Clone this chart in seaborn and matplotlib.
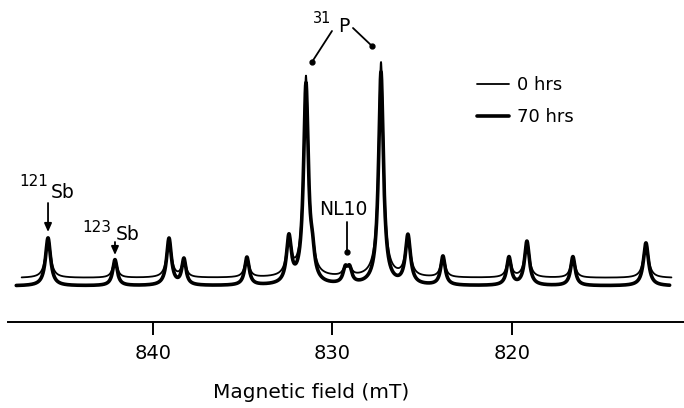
import numpy as np
import pandas as pd
import matplotlib
matplotlib.use("Agg")
import matplotlib.pyplot as plt
import seaborn as sns

# ---- values ----
# peak positions (mT), heights (signal units above each trace's baseline), half widths (mT)
peak_field = [845.83, 842.10, 839.09, 838.26, 834.75, 832.41, 831.46, 831.10,
              829.27, 829.03, 827.28, 825.78, 823.83, 820.15, 819.15, 816.59, 812.52]
peak_height_0h = [40, 18, 39, 18, 20, 38, 199, 14, 8, 8, 215, 41, 21, 20, 36, 21, 35]
peak_height_70h = [48, 26, 47, 26, 28, 46, 199, 20, 14, 14, 213, 49, 29, 28, 44, 29, 43]
peak_width = [0.17, 0.15, 0.16, 0.14, 0.15, 0.16, 0.16, 0.14,
              0.15, 0.15, 0.16, 0.17, 0.15, 0.15, 0.16, 0.15, 0.17]
baseline_0h = 0
baseline_70h = -8
field_span_0h = [847.3, 811.1]
field_span_70h = [847.6, 811.2]
series_labels = ["0 hrs", "70 hrs"]
tick_values = [840, 830, 820]
tick_labels = ["840", "830", "820"]


def trace(span, heights, base):
    x = np.linspace(span[0], span[1], 4000)
    y = np.full_like(x, float(base))
    for c, h, w in zip(peak_field, heights, peak_width):
        y = y + h / (1.0 + ((x - c) / w) ** 2)
    return pd.DataFrame({"field": x, "signal": y})


df0 = trace(field_span_0h, peak_height_0h, baseline_0h)
df70 = trace(field_span_70h, peak_height_70h, baseline_70h)

sns.set_style("white")
plt.rcParams["font.family"] = ["DejaVu Sans"]
plt.rcParams["text.color"] = "black"
plt.rcParams["axes.labelcolor"] = "black"
plt.rcParams["xtick.color"] = "black"

W, H = 684, 408
fig = plt.figure(figsize=(W / 100, H / 100), dpi=100)
ax = fig.add_axes([8 / W, 86 / H, 676 / W, 322 / H])

sns.lineplot(data=df0, x="field", y="signal", ax=ax, color="black", lw=1.3,
             sort=False, label=series_labels[0], zorder=3)
sns.lineplot(data=df70, x="field", y="signal", ax=ax, color="black", lw=2.6,
             sort=False, label=series_labels[1], zorder=2)

ax.set_xlim(848.06, 810.4)
ax.set_ylim(-44, 278)

for s in ["left", "top", "right"]:
    ax.spines[s].set_visible(False)
ax.spines["bottom"].set_linewidth(1.4)
ax.spines["bottom"].set_color("black")
ax.set_yticks([])
ax.set_ylabel("")
ax.set_xticks(tick_values)
ax.set_xticklabels(tick_labels)
ax.tick_params(axis="x", direction="out", length=9.5, width=1.4, pad=6,
               labelsize=14, colors="black", bottom=True)

ax.set_xlabel("Magnetic field (mT)", fontsize=14.5, color="black")
ax.xaxis.label.set_va("center")
ax.xaxis.set_label_coords((311.5 - 8) / 676, -(392 - 322) / 322)

leg = ax.legend(loc="upper left", bbox_to_anchor=(477 / W, 1 - 76 / H),
                bbox_transform=fig.transFigure, frameon=False, fontsize=13,
                handlelength=1.75, handletextpad=0.45, labelspacing=0.78,
                borderpad=0, borderaxespad=0)
for t in leg.get_texts():
    t.set_color("black")


# ---- annotations (pixel layout helpers) ----
def X(px):
    return 840 - (px - 152.7) / 17.95


def Y(py):
    return 278 - py


arrow = dict(arrowstyle="-|>,head_length=0.5,head_width=0.22", color="black",
             lw=1.3, shrinkA=0, shrinkB=0)

# 121Sb
ax.text(X(34), Y(182), "121", fontsize=11, ha="center", va="center")
ax.text(X(63), Y(192), "Sb", fontsize=13.5, ha="center", va="center")
ax.annotate("", xy=(peak_field[0], Y(232)), xytext=(peak_field[0], Y(203)),
            arrowprops=arrow)
# 123Sb
ax.text(X(97), Y(227), "123", fontsize=11, ha="center", va="center")
ax.text(X(128), Y(235), "Sb", fontsize=13.5, ha="center", va="center")
ax.annotate("", xy=(peak_field[1], Y(255)), xytext=(peak_field[1], Y(242)),
            arrowprops=arrow)
# 31P
ax.text(X(322), Y(18), "31", fontsize=10.5, ha="center", va="center")
ax.text(X(344), Y(26), "P", fontsize=13.5, ha="center", va="center")
ax.plot([X(332), X(312)], [Y(31), Y(62)], color="black", lw=1.3)
ax.plot([X(353), X(372)], [Y(28), Y(46)], color="black", lw=1.3)
ax.plot([X(312), X(372)], [Y(62), Y(46)], "o", color="black", ms=3.5, ls="none")
# NL10
ax.text(X(343), Y(209.5), "NL10", fontsize=13.5, ha="center", va="center")
ax.plot([X(347), X(347)], [Y(222), Y(252)], color="black", lw=1.3)
ax.plot([X(347)], [Y(252)], "o", color="black", ms=3.5)

fig.savefig("out.png", dpi=100)
